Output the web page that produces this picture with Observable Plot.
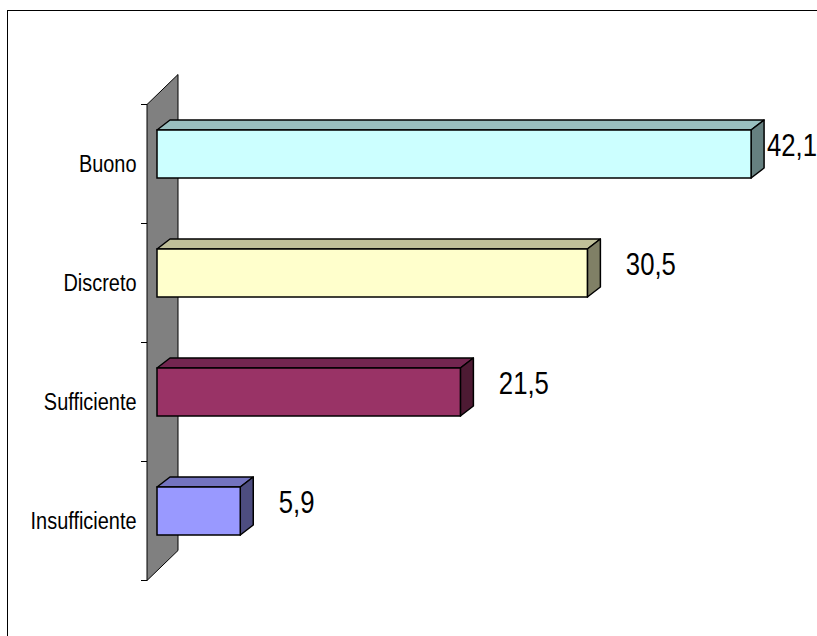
<!DOCTYPE html>
<html>
<head>
<meta charset="utf-8">
<script src="https://cdn.jsdelivr.net/npm/d3@7"></script>
<script src="https://cdn.jsdelivr.net/npm/@observablehq/plot@0.6"></script>
<style>
  html, body { margin: 0; padding: 0; background: #fff; overflow: hidden; }
  #wrap { position: relative; width: 817px; height: 636px; }
  #border { position: absolute; left: 7px; top: 10px; width: 900px; height: 700px;
            border-left: 1px solid #000; border-top: 1px solid #000; pointer-events: none; }
</style>
</head>
<body>
<div id="wrap"><div id="border"></div></div>
<script>
const categories = ["Buono", "Discreto", "Sufficiente", "Insufficiente"];
const values = [42.1, 30.5, 21.5, 5.9];
const valueLabels = ["42,1", "30,5", "21,5", "5,9"];
const frontColors = ["#CCFFFF", "#FFFFCC", "#993366", "#9999FF"];
const topColors = ["#99BFBF", "#BFBF99", "#732650", "#7373BF"];
const sideColors = ["#668080", "#808066", "#4D1A33", "#4D4D80"];

const data = categories.map((c, i) => ({cat: c, value: values[i], label: valueLabels[i],
  front: frontColors[i], top: topColors[i], side: sideColors[i]}));

// 3D offsets (pixels)
const WALL_DX = 31, WALL_DY = -30;   // wall depth
const BAR_DX = 10, BAR_DY = -10;     // bar front position in depth
const BAR_DEPTH_X = 13, BAR_DEPTH_Y = -10;
const NARROW = 0.83;                 // emulate a narrow typeface

function bandInfo(y) {
  const y0 = y(categories[0]), y1 = y(categories[1]);
  const step = y1 - y0;
  const bw = y.bandwidth ? y.bandwidth() : step * 0.4;
  return {step, bw};
}

// wall + boundary ticks
function wallMark(index, scales) {
  const {x, y} = scales;
  const {step, bw} = bandInfo(y);
  const pad = (step - bw) / 2;
  const x0 = x(0);
  const top = y(categories[0]) - pad;
  const bottom = y(categories[categories.length - 1]) + bw + pad;
  const g = d3.create("svg:g");
  g.append("path")
    .attr("d", `M${x0},${top}L${x0 + WALL_DX},${top + WALL_DY}L${x0 + WALL_DX},${bottom + WALL_DY}L${x0},${bottom}Z`)
    .attr("fill", "#808080").attr("stroke", "#000").attr("stroke-width", 1);
  const bounds = categories.map(c => y(c) - pad).concat([bottom]);
  g.selectAll("line.tk").data(bounds).join("line")
    .attr("x1", x0 - 6).attr("x2", x0).attr("y1", d => d).attr("y2", d => d)
    .attr("stroke", "#000").attr("stroke-width", 1);
  return g.node();
}

// top and side faces of the bars
function facesMark(index, scales) {
  const {x, y} = scales;
  const {bw} = bandInfo(y);
  const g = d3.create("svg:g").attr("stroke", "#000").attr("stroke-width", 1.5).attr("stroke-linejoin", "round");
  for (const d of data) {
    const xl = x(0) + BAR_DX, xr = x(d.value) + BAR_DX;
    const yt = y(d.cat) + BAR_DY, yb = yt + bw;
    g.append("path")
      .attr("d", `M${xl},${yt}L${xl + BAR_DEPTH_X},${yt + BAR_DEPTH_Y}L${xr + BAR_DEPTH_X},${yt + BAR_DEPTH_Y}L${xr},${yt}Z`)
      .attr("fill", d.top);
    g.append("path")
      .attr("d", `M${xr},${yt}L${xr + BAR_DEPTH_X},${yt + BAR_DEPTH_Y}L${xr + BAR_DEPTH_X},${yb + BAR_DEPTH_Y}L${xr},${yb}Z`)
      .attr("fill", d.side);
  }
  return g.node();
}

const chart = Plot.plot({
  width: 817,
  height: 636,
  marginLeft: 147,
  marginRight: 35,
  marginTop: 103,
  marginBottom: 54,
  style: {fontFamily: "'Liberation Sans Narrow', 'Arial Narrow', 'Liberation Sans', Arial, sans-serif", fontSize: "24px", color: "#000", background: "transparent", overflow: "visible"},
  x: {domain: [0, 45], axis: null},
  y: {type: "band", domain: categories, paddingInner: 0.6, paddingOuter: 0.3, tickSize: 0, tickPadding: 11, label: null},
  marks: [
    wallMark,
    facesMark,
    Plot.barX(data, {x: "value", y: "cat", fill: d => d.front, stroke: "#000", strokeWidth: 1.5, dx: BAR_DX, dy: BAR_DY}),
    Plot.text(data, {x: d => Math.min(d.value + 3.4, 43.9), y: "cat", text: "label", textAnchor: "start", dy: -18, fontSize: 31, fill: "#000"})
  ]
});

// condense all texts horizontally around their anchor point
d3.select(chart).selectAll("text").each(function() {
  const t = d3.select(this);
  for (const a of ["x", "dx"]) {
    const v = t.attr(a);
    if (v != null && /^-?[\d.]+$/.test(v)) t.attr(a, +v / NARROW);
  }
  t.selectAll("tspan").each(function() {
    const s = d3.select(this);
    for (const a of ["x", "dx"]) {
      const v = s.attr(a);
      if (v != null && /^-?[\d.]+$/.test(v)) s.attr(a, +v / NARROW);
    }
  });
  const tr = t.attr("transform");
  if (tr) {
    // keep translation, then condense
    t.attr("transform", `${tr} scale(${NARROW},1)`);
  } else {
    t.attr("transform", `scale(${NARROW},1)`);
    const x = t.attr("x");
    if (x == null) { /* nothing */ }
  }
});
document.getElementById("wrap").insertBefore(chart, document.getElementById("border"));
</script>
</body>
</html>
